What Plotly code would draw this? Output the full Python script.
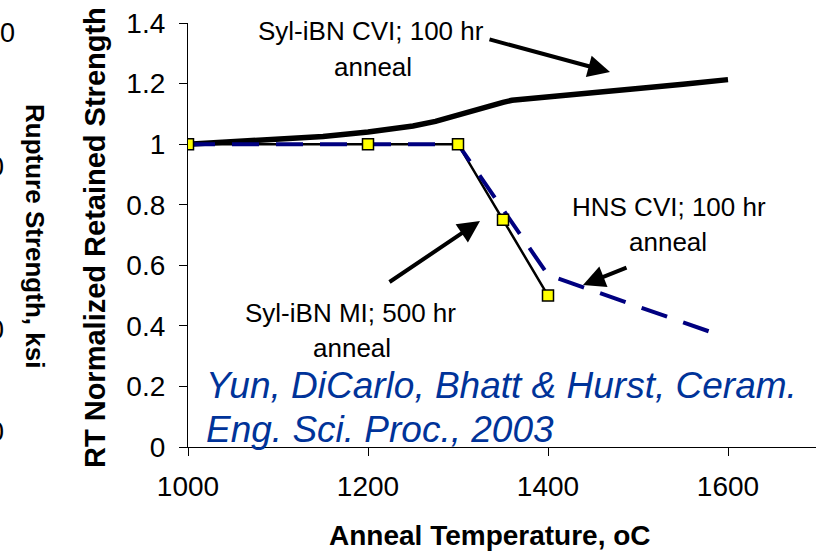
#!/usr/bin/env python3
# -*- coding: utf-8 -*-
"""
RT normalized retained strength vs anneal temperature (Sylramic-iBN / HNS CVI data)
"""

import plotly.graph_objects as go

# ---- data ----
# Syl-iBN CVI; 100 hr anneal (thick black curve)
cvi_temp = [1000, 1050, 1100, 1150, 1200, 1250, 1275, 1300, 1325, 1350, 1360,
            1400, 1450, 1500, 1550, 1600]
cvi_strength = [1.000, 1.008, 1.015, 1.025, 1.040, 1.060, 1.075, 1.097, 1.118,
                1.138, 1.145, 1.155, 1.169, 1.184, 1.198, 1.213]

# Syl-iBN MI; 500 hr anneal (black line, yellow squares)
mi_temp = [1000, 1200, 1300, 1350, 1400]
mi_strength = [1.0, 1.0, 1.0, 0.75, 0.5]

# HNS CVI; 100 hr anneal (navy dashed)
hns_temp = [1000, 1200, 1300, 1400, 1595]
hns_strength = [1.0, 1.0, 1.0, 0.568, 0.365]

y_ticks = [0, 0.2, 0.4, 0.6, 0.8, 1, 1.2, 1.4]
y_tick_text = ['0', '0.2', '0.4', '0.6', '0.8', '1', '1.2', '1.4']
x_ticks = [1000, 1200, 1400, 1600]

# cropped labels of the neighbouring chart on the left
left_labels = ['100', '0', '0', '0']

FONT = 'Arial, Liberation Sans, sans-serif'

# plot area in pixels
W, H = 816, 552
L, R, T, B = 188, 0, 23, 105
X_MIN = 1000
X_MAX = X_MIN + (W - L - R) / 0.9


def px_to_paper(px, py):
    return (px - L) / (W - L - R), (H - B - py) / (H - T - B)


def main():
    fig = go.Figure()

    fig.add_trace(go.Scatter(
        x=cvi_temp, y=cvi_strength, mode='lines',
        line=dict(color='black', width=5.5), hoverinfo='skip'))
    fig.add_trace(go.Scatter(
        x=mi_temp, y=mi_strength, mode='lines',
        line=dict(color='black', width=2.5), hoverinfo='skip'))
    fig.add_trace(go.Scatter(
        x=hns_temp, y=hns_strength, mode='lines',
        line=dict(color='#000080', width=4, dash='27px,17px'), hoverinfo='skip'))
    fig.add_trace(go.Scatter(
        x=mi_temp, y=mi_strength, mode='markers',
        marker=dict(symbol='square', size=11, color='#FFFF00',
                    line=dict(color='black', width=1.5)),
        hoverinfo='skip'))

    ann = []

    def label(text, px, py, font, xanchor='center', angle=0):
        x0, y0 = px_to_paper(px, py)
        ann.append(dict(x=x0, y=y0, xref='paper', yref='paper', text=text,
                        showarrow=False, font=font, textangle=angle,
                        xanchor=xanchor, yanchor='middle'))

    txt = dict(color='black', size=26, family=FONT)

    # series labels (pixel centres)
    for text, px, py in [('Syl-iBN CVI; 100 hr', 371, 31), ('anneal', 373, 67),
                         ('HNS CVI; 100 hr', 669, 207), ('anneal', 668, 242),
                         ('Syl-iBN MI; 500 hr', 350, 313), ('anneal', 352, 348)]:
        label(text, px, py, txt)

    # arrows: tail pixel -> head pixel
    for tx, ty, hx, hy in [(488, 39, 610, 72),
                           (628, 267, 583, 285),
                           (388, 283, 480, 221)]:
        x0, y0 = px_to_paper(hx, hy)
        ann.append(dict(x=x0, y=y0, xref='paper', yref='paper',
                        ax=tx - hx, ay=ty - hy, text='', showarrow=True,
                        arrowhead=2, arrowsize=1.1, arrowwidth=4, arrowcolor='black'))

    # citation
    cite = dict(color='#003399', size=37, family=FONT)
    label('<i>Yun, DiCarlo, Bhatt &amp; Hurst, Ceram.</i>', 204, 385, cite, xanchor='left')
    label('<i>Eng. Sci. Proc., 2003</i>', 204, 429, cite, xanchor='left')

    # axis titles
    label('<b>Anneal Temperature, oC</b>', 490, 535,
          dict(color='black', size=28, family=FONT))
    label('<b>RT Normalized Retained Strength</b>', 95, 238,
          dict(color='black', size=29, family=FONT), angle=-90)
    label('<b>Rupture Strength, ksi</b>', 35, 236,
          dict(color='black', size=26, family=FONT), angle=90)

    # cut-off tick labels of the left chart
    for text, rx, py in zip(left_labels, [17, 6, 6, 6], [33, 167, 330, 432]):
        label(text, rx, py, dict(color='black', size=27, family=FONT), xanchor='right')

    fig.update_layout(
        width=W, height=H,
        margin=dict(l=L, r=R, t=T, b=B, pad=0),
        paper_bgcolor='white', plot_bgcolor='white',
        showlegend=False,
        annotations=ann,
        font=dict(family=FONT, color='black'),
    )
    fig.update_xaxes(
        range=[X_MIN, X_MAX], tickvals=x_ticks, showgrid=False, zeroline=False,
        showline=True, linecolor='black', linewidth=1.2,
        ticks='outside', ticklen=8, tickcolor='black', tickwidth=1,
        ticklabelstandoff=6, tickfont=dict(size=28, family=FONT, color='black'))
    fig.update_yaxes(
        range=[0, 1.4], tickvals=y_ticks, ticktext=y_tick_text, showgrid=False,
        zeroline=False, showline=True, linecolor='black', linewidth=1.2,
        ticks='outside', ticklen=8, tickcolor='black', tickwidth=1,
        ticklabelstandoff=8, tickfont=dict(size=28, family=FONT, color='black'))

    # page body has an 8px default margin; drop it so the figure sits at 0,0
    fig.write_html('out.html', config={'displayModeBar': False},
                   post_script="document.body.style.margin='0px';")


if __name__ == '__main__':
    main()
